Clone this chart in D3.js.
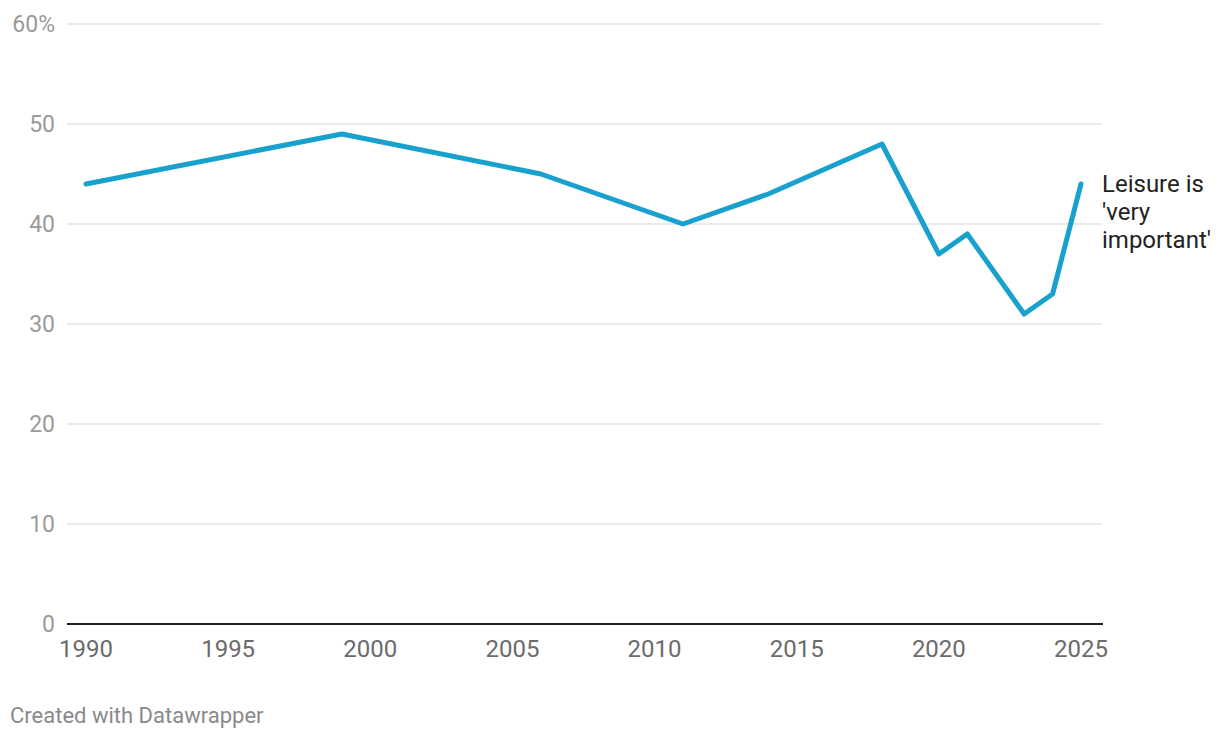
<!DOCTYPE html>
<html><head><meta charset="utf-8">
<script src="https://cdn.jsdelivr.net/npm/d3@7"></script>
<style>body{margin:0;background:#fff;font-family:Roboto,sans-serif;}</style>
</head><body><svg id="c" width="1220" height="740"></svg>
<script>
const years = [1990, 1999, 2006, 2011, 2014, 2018, 2020, 2021, 2023, 2024, 2025];
const values = [44, 49, 45, 40, 43, 48, 37, 39, 31, 33, 44];
const yTicks = [0, 10, 20, 30, 40, 50, 60];
const xTicks = [1990, 1995, 2000, 2005, 2010, 2015, 2020, 2025];
const seriesLabel = ["Leisure is", "'very", "important'"];
const footer = "Created with Datawrapper";

const svg = d3.select("#c");
const x = d3.scaleLinear().domain([1990, 2025]).range([86, 1081]);
const y = d3.scaleLinear().domain([0, 60]).range([624, 24]);
const gx0 = 67, gx1 = 1102;

const grid = svg.append("g");
grid.selectAll("line").data(yTicks.filter(d => d > 0)).join("line")
  .attr("x1", gx0).attr("x2", gx1).attr("y1", d => y(d)).attr("y2", d => y(d))
  .attr("stroke", "#e3e3e3").attr("stroke-width", 1.5);
svg.append("g").selectAll("text").data(yTicks).join("text")
  .attr("x", 55).attr("y", d => y(d)).attr("dy", "0.35em").attr("text-anchor", "end")
  .attr("font-size", 23).attr("fill", "#9a9a9a")
  .text(d => d === 60 ? d + "%" : d);
svg.append("line").attr("x1", gx0).attr("x2", gx1 + 1).attr("y1", y(0)).attr("y2", y(0))
  .attr("stroke", "#222").attr("stroke-width", 2);
svg.append("g").selectAll("text").data(xTicks).join("text")
  .attr("x", d => x(d)).attr("y", 657).attr("text-anchor", "middle")
  .attr("font-size", 24).attr("fill", "#6b6b6b").text(d => d);

const line = d3.line().x((d, i) => x(years[i])).y(d => y(d));
svg.append("path").datum(values).attr("d", line).attr("fill", "none")
  .attr("stroke", "#18a1cd").attr("stroke-width", 5)
  .attr("stroke-linejoin", "round").attr("stroke-linecap", "round");

svg.append("text").attr("x", 1102).attr("y", 192)
  .attr("font-size", 24).attr("fill", "#222")
  .selectAll("tspan").data(seriesLabel).join("tspan")
  .attr("x", 1102).attr("dy", (d, i) => i === 0 ? 0 : 28).text(d => d);

svg.append("text").attr("x", 10).attr("y", 723).attr("font-size", 22)
  .attr("fill", "#8a8a8a").text(footer);
</script></body></html>
